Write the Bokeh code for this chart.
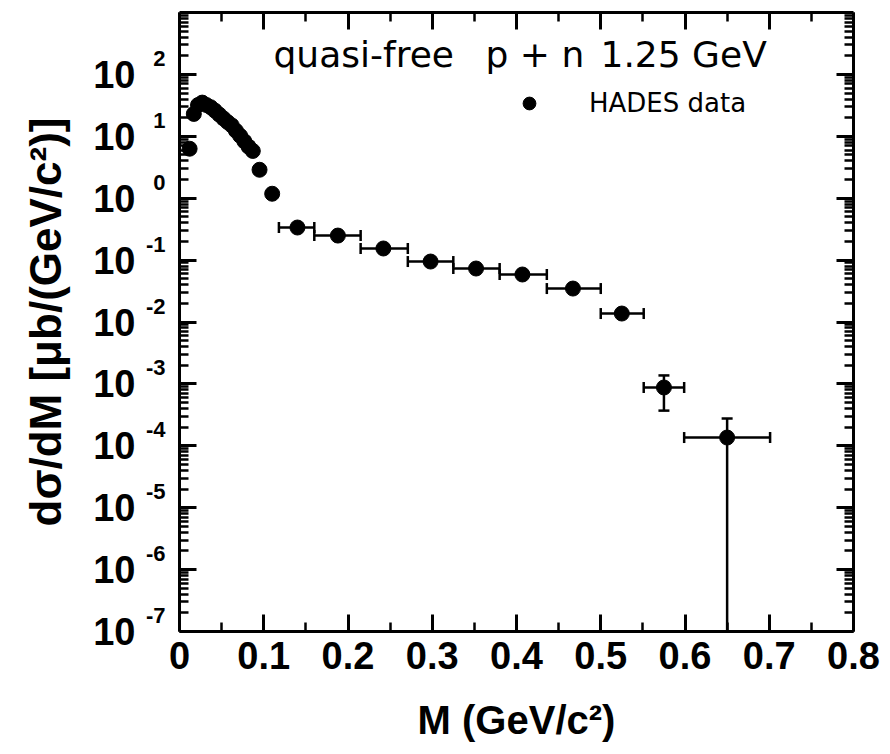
import math
from bokeh.plotting import figure
from bokeh.models import (Range1d, LogAxis, LinearAxis, FixedTicker, CustomJSTickFormatter,
                          Legend, LegendItem, Label)
from bokeh.embed import file_html
from bokeh.resources import INLINE

# ---------------- data ----------------
low_mass = [0.012, 0.017, 0.022, 0.027, 0.032, 0.037, 0.042, 0.047, 0.052, 0.057,
            0.062, 0.067, 0.072, 0.077, 0.082, 0.087, 0.095, 0.110]
low_xsec = [6.3, 23.0, 32.0, 35.0, 32.0, 29.5, 26.0, 22.5, 19.5, 17.0,
            15.0, 12.3, 10.2, 8.3, 6.8, 5.8, 2.88, 1.18]

high_mass = [0.140, 0.188, 0.242, 0.298, 0.352, 0.407, 0.467, 0.525, 0.575, 0.650]
high_xsec = [0.336, 0.249, 0.154, 0.0948, 0.0731, 0.0585, 0.0347, 0.0137, 8.75e-4, 1.36e-4]
high_mlo = [0.118, 0.160, 0.215, 0.271, 0.325, 0.380, 0.436, 0.500, 0.551, 0.599]
high_mhi = [0.160, 0.215, 0.271, 0.325, 0.380, 0.436, 0.500, 0.551, 0.599, 0.701]

verr_mass = [0.575, 0.650]
verr_lo = [3.7e-4, 0.0]       # 0 -> error bar reaches down to zero
verr_hi = [1.37e-3, 2.76e-4]

x_ticks = [0.0, 0.1, 0.2, 0.3, 0.4, 0.5, 0.6, 0.7, 0.8]
x_minor = [0.05, 0.15, 0.25, 0.35, 0.45, 0.55, 0.65, 0.75]
y_decades = [-7, -6, -5, -4, -3, -2, -1, 0, 1, 2]

title_parts = ["quasi-free", "p + n", "1.25 GeV"]
legend_label = "HADES data"
x_title = "M (GeV/c\u00b2)"
y_title = "d\u03c3/dM [\u03bcb/(GeV/c\u00b2)]"

# ---------------- figure ----------------
FONT = "Liberation Sans"
Y0, Y1 = 1e-7, 1e3
FRAME_H = 754 - 12 - 123
PX_PER_DEC = FRAME_H / math.log10(Y1 / Y0)

p = figure(width=890, height=754, x_range=Range1d(0, 0.8), y_range=Range1d(Y0, Y1),
           y_axis_type="log", x_axis_location=None, y_axis_location=None,
           output_backend="svg", toolbar_location=None,
           min_border_left=179, min_border_right=37, min_border_top=12, min_border_bottom=123)
p.outline_line_color = None
p.background_fill_color = "white"
p.border_fill_color = "white"
p.xgrid.grid_line_color = None
p.ygrid.grid_line_color = None

# exponents are drawn on a range shifted so that they sit higher than their tick
up = 10 ** (16 / PX_PER_DEC)
p.extra_y_ranges = {"exp": Range1d(Y0 / up, Y1 / up)}

y_major = [10.0 ** e for e in y_decades]
y_minor = [k * 10.0 ** e for e in y_decades for k in range(2, 10)]
xt = FixedTicker(ticks=x_ticks, minor_ticks=x_minor)
yt = FixedTicker(ticks=y_major, minor_ticks=y_minor)

def style_ticks(ax):
    ax.axis_line_width = 3
    ax.axis_line_color = "black"
    ax.major_tick_line_color = "black"
    ax.minor_tick_line_color = "black"
    ax.major_tick_line_width = 3
    ax.minor_tick_line_width = 2.5
    ax.major_tick_in = 17
    ax.major_tick_out = 0
    ax.minor_tick_in = 9
    ax.minor_tick_out = 0

def hide_labels(ax):
    ax.major_label_text_color = None
    ax.major_label_text_font_size = "1px"
    ax.major_label_standoff = 0

def labels_only(ax):
    ax.axis_line_color = None
    ax.major_tick_line_color = None
    ax.minor_tick_line_color = None
    ax.major_tick_in = 0
    ax.major_tick_out = 0
    ax.minor_tick_in = 0
    ax.minor_tick_out = 0

# bottom axis
ax_b = LinearAxis(ticker=xt, axis_label=x_title)
style_ticks(ax_b)
ax_b.major_label_text_font = FONT
ax_b.major_label_text_font_style = "bold"
ax_b.major_label_text_font_size = "38px"
ax_b.major_label_text_color = "black"
ax_b.major_label_standoff = 10
ax_b.axis_label_text_font = FONT
ax_b.axis_label_text_font_style = "bold"
ax_b.axis_label_text_font_size = "40px"
ax_b.axis_label_text_color = "black"
ax_b.axis_label_standoff = 26
p.add_layout(ax_b, "below")

# top mirror axis
ax_t = LinearAxis(ticker=xt)
style_ticks(ax_t)
hide_labels(ax_t)
p.add_layout(ax_t, "above")

# left: tick axis
ax_l = LogAxis(ticker=yt)
style_ticks(ax_l)
hide_labels(ax_l)
p.add_layout(ax_l, "left")

# left: exponents (raised)
ax_e = LogAxis(ticker=yt, y_range_name="exp",
               formatter=CustomJSTickFormatter(code="return String(Math.round(Math.log10(tick)));"))
labels_only(ax_e)
ax_e.major_label_text_font = FONT
ax_e.major_label_text_font_style = "bold"
ax_e.major_label_text_font_size = "22px"
ax_e.major_label_text_color = "black"
ax_e.major_label_standoff = 14
p.add_layout(ax_e, "left")

# left: mantissas "10" and the axis title
ax_m = LogAxis(ticker=yt, formatter=CustomJSTickFormatter(code="return '10';"),
               axis_label=y_title)
labels_only(ax_m)
ax_m.major_label_text_font = FONT
ax_m.major_label_text_font_style = "bold"
ax_m.major_label_text_font_size = "38px"
ax_m.major_label_text_color = "black"
ax_m.major_label_standoff = 7
ax_m.axis_label_text_font = FONT
ax_m.axis_label_text_font_style = "bold"
ax_m.axis_label_text_font_size = "44px"
ax_m.axis_label_text_color = "black"
ax_m.axis_label_standoff = 20
p.add_layout(ax_m, "left")

# right mirror axis
ax_r = LogAxis(ticker=yt)
style_ticks(ax_r)
hide_labels(ax_r)
p.add_layout(ax_r, "right")

# ---------------- data glyphs ----------------
BAR_W = 2.5
CAP = 11
p.segment(x0=high_mlo, y0=high_xsec, x1=high_mhi, y1=high_xsec,
          line_color="black", line_width=BAR_W)
p.scatter(x=high_mlo, y=high_xsec, marker="dash", angle=math.pi / 2, size=CAP,
          line_color="black", line_width=BAR_W)
p.scatter(x=high_mhi, y=high_xsec, marker="dash", angle=math.pi / 2, size=CAP,
          line_color="black", line_width=BAR_W)

floor = Y0 * 1e-5
lo_draw = [v if v > 0 else floor for v in verr_lo]
p.segment(x0=verr_mass, y0=lo_draw, x1=verr_mass, y1=verr_hi,
          line_color="black", line_width=BAR_W)
p.scatter(x=verr_mass, y=verr_hi, marker="dash", size=CAP, line_color="black", line_width=BAR_W)
cap_lo_m = [m for m, v in zip(verr_mass, verr_lo) if v > 0]
cap_lo_v = [v for v in verr_lo if v > 0]
p.scatter(x=cap_lo_m, y=cap_lo_v, marker="dash", size=CAP, line_color="black", line_width=BAR_W)

r_low = p.scatter(x=low_mass, y=low_xsec, size=15, color="black")
r_high = p.scatter(x=high_mass, y=high_xsec, size=15, color="black")

# ---------------- legend ----------------
legend = Legend(items=[LegendItem(label=legend_label, renderers=[r_low])],
                location=(334, 512), glyph_width=32, glyph_height=32, label_height=32,
                label_standoff=44, padding=0, margin=0, spacing=0,
                border_line_color=None, background_fill_alpha=0,
                label_text_font="DejaVu Sans", label_text_font_size="26px",
                label_text_color="black", label_text_baseline="middle")
p.add_layout(legend)

# ---------------- header text ----------------
title_x = [94, 306, 421]
for txt, tx in zip(title_parts, title_x):
    p.add_layout(Label(x=tx, y=577, x_units="screen", y_units="screen", text=txt,
                       text_font="DejaVu Sans", text_font_size="36px",
                       text_baseline="alphabetic", text_color="black"))

open("out.html", "w").write(file_html(p, INLINE))
